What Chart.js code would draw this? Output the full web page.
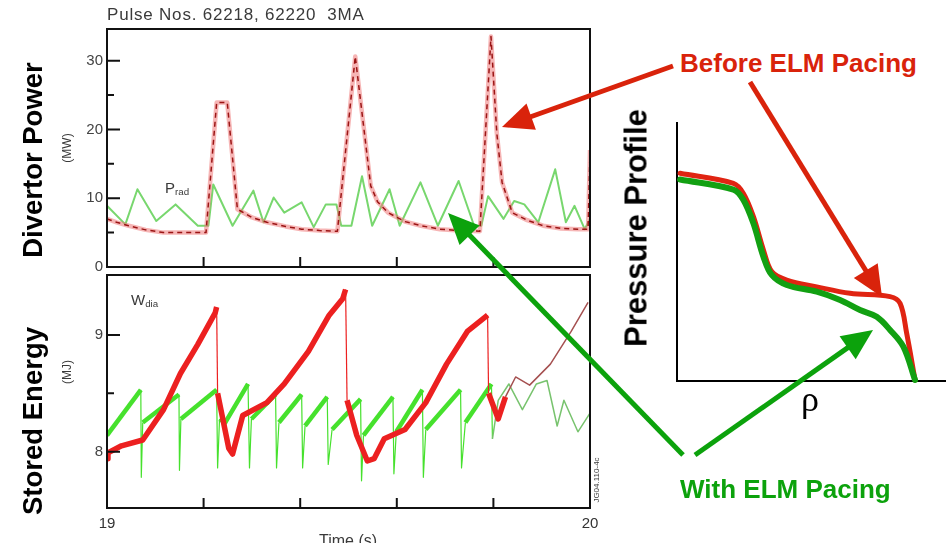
<!DOCTYPE html>
<html>
<head>
<meta charset="utf-8">
<script src="https://cdn.jsdelivr.net/npm/chart.js@4.4.0/dist/chart.umd.min.js"></script>
<style>
body { margin: 0; background: #fff; }
#page { position: relative; width: 946px; height: 543px; overflow: hidden; font-family: "Liberation Sans", Arial, sans-serif; }
canvas, .lbl, svg { position: absolute; }
.lbl { line-height: 1; white-space: nowrap; }
.rot { transform: translate(-50%, -50%) rotate(-90deg); }
.big { font-weight: bold; font-size: 27.5px; color: #000; }
.small { color: #3a3a3a; }
sub { font-size: 0.65em; vertical-align: -0.25em; }
</style>
</head>
<body>
<div id="page">
  <canvas id="power" width="600" height="280" style="left:0;top:0;width:600px;height:280px"></canvas>
  <canvas id="energy" width="620" height="290" style="left:0;top:262px;width:620px;height:290px"></canvas>
  <canvas id="profile" width="346" height="300" style="left:600px;top:100px;width:346px;height:300px"></canvas>

  <div class="lbl small" style="left:107px;top:6px;font-size:17px;letter-spacing:0.8px">Pulse Nos. 62218, 62220&nbsp; 3MA</div>
  <div class="lbl small" style="left:165px;top:180px;font-size:15px">P<sub>rad</sub></div>
  <div class="lbl small" style="left:131px;top:292px;font-size:15px">W<sub>dia</sub></div>
  <div class="lbl small rot" style="left:67px;top:148px;font-size:12px">(MW)</div>
  <div class="lbl small rot" style="left:67px;top:372px;font-size:12px">(MJ)</div>
  <div class="lbl small" style="left:348px;top:533px;font-size:16px;transform:translateX(-50%)">Time (s)</div>
  <div class="lbl small rot" style="left:597px;top:480px;font-size:8px">JG04.110-4c</div>

  <div class="lbl big rot" style="left:33px;top:160px">Divertor Power</div>
  <div class="lbl big rot" style="left:33px;top:421px">Stored Energy</div>
  <div class="lbl rot" style="left:636px;top:228px;font-size:31px;font-weight:bold">Pressure Profile</div>
  <div class="lbl" style="left:810px;top:381px;font-size:36px;font-family:'Liberation Serif','Times New Roman',serif;transform:translateX(-50%)">ρ</div>

  <div class="lbl" style="left:680px;top:50px;font-size:26px;font-weight:bold;color:#d9230b">Before ELM Pacing</div>
  <div class="lbl" style="left:680px;top:476px;font-size:26px;font-weight:bold;color:#0ca20c">With ELM Pacing</div>

  <svg id="arrows" width="946" height="543" style="left:0;top:0"></svg>
</div>
<script>
// divertor power, before ELM pacing (red)
const divTime = [19.0, 19.02, 19.045, 19.08, 19.117, 19.16, 19.205, 19.227, 19.249, 19.27, 19.30, 19.331, 19.37, 19.403,
  19.44, 19.477, 19.514, 19.546, 19.56, 19.582, 19.617, 19.65, 19.689, 19.73, 19.772, 19.795, 19.807, 19.818, 19.839,
  19.87, 19.903, 19.94, 19.975, 19.996, 20.0];
const divPower = [7.0, 6.5, 6.0, 5.4, 5.0, 5.0, 5.0, 23.9, 23.9, 8.4, 7.2, 6.5, 5.9, 5.5,
  5.3, 5.2, 30.6, 11.8, 9.5, 7.9, 6.6, 6.0, 5.5, 5.3, 5.2, 33.5, 19.5, 12.3, 7.9,
  6.8, 6.0, 5.6, 5.5, 5.5, 17.0];
// radiated power, with ELM pacing (green)
const radTime = [19.0, 19.038, 19.063, 19.102, 19.142, 19.188, 19.21, 19.22, 19.26, 19.303, 19.324, 19.345, 19.367, 19.403,
  19.428, 19.453, 19.475, 19.485, 19.506, 19.528, 19.549, 19.585, 19.606, 19.649, 19.685, 19.728, 19.76, 19.775, 19.789,
  19.821, 19.843, 19.864, 19.893, 19.928, 19.95, 19.968, 19.989, 20.0];
const radPower = [8.9, 6.2, 11.3, 6.7, 9.1, 6.0, 6.0, 12.0, 6.0, 11.1, 6.5, 10.1, 7.9, 9.4,
  5.8, 9.1, 9.1, 6.0, 6.0, 13.2, 6.0, 11.3, 6.0, 12.3, 6.0, 12.5, 6.0, 6.0, 10.3,
  7.0, 9.6, 9.1, 6.5, 14.2, 6.5, 8.9, 5.5, 7.0];

// stored energy W_dia, before pacing (red)
const wTimeBefore = [19.0, 19.002, 19.03, 19.074, 19.117, 19.152, 19.188, 19.224, 19.227, 19.229, 19.252, 19.26, 19.281,
  19.331, 19.367, 19.417, 19.46, 19.488, 19.494, 19.497, 19.517, 19.539, 19.553, 19.574, 19.617, 19.66, 19.703, 19.746,
  19.788, 19.79, 19.81, 19.825, 19.846, 19.875, 19.918, 19.961, 19.996];
const wBefore = [7.94, 7.99, 8.05, 8.10, 8.36, 8.67, 8.92, 9.19, 9.24, 8.5, 8.03, 7.98, 8.31,
  8.42, 8.58, 8.86, 9.17, 9.31, 9.39, 8.44, 8.14, 7.92, 7.94, 8.11, 8.19, 8.42, 8.75, 9.03,
  9.17, 8.5, 8.28, 8.47, 8.64, 8.57, 8.75, 9.03, 9.28];
// stored energy W_dia, with pacing (green)
const wTimeAfter = [19.0, 19.07, 19.071, 19.074, 19.149, 19.15, 19.153, 19.227, 19.229, 19.233, 19.245, 19.292, 19.295,
  19.299, 19.349, 19.351, 19.356, 19.403, 19.405, 19.41, 19.456, 19.458, 19.466, 19.525, 19.527, 19.531, 19.592, 19.594,
  19.599, 19.653, 19.655, 19.66, 19.732, 19.734, 19.742, 19.796, 19.798, 19.81, 19.832, 19.86, 19.889, 19.911, 19.932,
  19.946, 19.975, 20.0];
const wAfter = [8.14, 8.53, 7.78, 8.25, 8.49, 7.84, 8.28, 8.53, 7.86, 8.28, 8.25, 8.58, 7.86,
  8.28, 8.49, 7.86, 8.25, 8.49, 7.86, 8.22, 8.47, 7.89, 8.19, 8.45, 7.75, 8.14, 8.47, 7.81,
  8.17, 8.53, 7.78, 8.19, 8.53, 7.86, 8.25, 8.58, 8.11, 8.44, 8.58, 8.36, 8.58, 8.61, 8.22,
  8.44, 8.17, 8.33];

// pressure profiles vs rho
const rhoBefore = [0.013, 0.237, 0.279, 0.321, 0.363, 0.398, 0.461, 0.587, 0.727, 0.895, 0.937, 0.965, 1.0];
const presBefore = [0.805, 0.766, 0.727, 0.637, 0.508, 0.424, 0.391, 0.365, 0.340, 0.327, 0.301, 0.184, 0.004];
const rhoAfter = [0.013, 0.237, 0.279, 0.321, 0.363, 0.398, 0.461, 0.587, 0.685, 0.769, 0.839, 0.895, 0.951, 1.0];
const presAfter = [0.781, 0.742, 0.702, 0.611, 0.482, 0.411, 0.372, 0.346, 0.314, 0.275, 0.249, 0.198, 0.133, 0.004];

const powerTicks = [0, 10, 20, 30];
const powerMinor = [5, 15, 25];
const energyTicks = [8, 9];
const energyMinor = [8.5];
const timeLabels = [19, 20];
const timeMarks = [19.2, 19.4, 19.6, 19.8];

const RED = "#d9230b";
const GREEN = "#0ca20c";

Chart.defaults.font.family = '"Liberation Sans", Arial, sans-serif';
Chart.defaults.animation = false;

const pts = (xs, ys) => xs.map((x, i) => ({ x: x, y: ys[i] }));

// box round the plot and tick marks pointing inwards
const framePlugin = {
    id: "frame",
    afterDraw(chart, args, opts) {
        const { ctx, chartArea: a, scales } = chart;
        ctx.save();
        ctx.strokeStyle = "#111";
        ctx.lineWidth = 2;
        ctx.strokeRect(a.left, a.top, a.right - a.left, a.bottom - a.top);
        ctx.beginPath();
        opts.major.forEach((v) => {
            const y = scales.y.getPixelForValue(v);
            ctx.moveTo(a.left, y);
            ctx.lineTo(a.left + 13, y);
        });
        opts.minor.forEach((v) => {
            const y = scales.y.getPixelForValue(v);
            ctx.moveTo(a.left, y);
            ctx.lineTo(a.left + 7, y);
        });
        opts.marks.forEach((v) => {
            const x = scales.x.getPixelForValue(v);
            ctx.moveTo(x, a.bottom);
            ctx.lineTo(x, a.bottom - 10);
        });
        ctx.stroke();
        ctx.restore();
    },
};

const yAxis = (min, max, ticks) => ({
    min: min,
    max: max,
    afterFit: (s) => { s.width = 107; },
    afterBuildTicks: (s) => { s.ticks = ticks.map((v) => ({ value: v })); },
    grid: { display: false, drawTicks: false },
    border: { display: false },
    ticks: { padding: 4, color: "#444", font: { size: 15 } },
});

new Chart(document.getElementById("power"), {
    type: "line",
    data: {
        datasets: [
            { data: pts(divTime, divPower), borderColor: "#9b1515", borderWidth: 1.5, borderDash: [5, 4] },
            { data: pts(divTime, divPower), borderColor: "rgba(238,120,120,0.55)", borderWidth: 4.5 },
            { data: pts(radTime, radPower), borderColor: "rgb(120,215,110)", borderWidth: 2 },
        ],
    },
    options: {
        responsive: false,
        layout: { padding: { top: 29, right: 10, bottom: 12, left: 0 } },
        elements: { point: { radius: 0 }, line: { tension: 0, borderJoinStyle: "round" } },
        plugins: {
            legend: { display: false },
            tooltip: { enabled: false },
            frame: { major: powerTicks, minor: powerMinor, marks: timeMarks },
        },
        scales: {
            x: {
                type: "linear", min: 19, max: 20,
                afterFit: (s) => { s.height = 0; },
                grid: { display: false, drawTicks: false },
                border: { display: false },
                ticks: { display: false },
            },
            y: yAxis(0, 34.6, powerTicks),
        },
    },
    plugins: [framePlugin],
});

// thick noisy trace, thin line for the fast drops and the tail
const wSegment = (thinFrom, thick, colThick, colThin) => ({
    borderWidth: (c) => {
        if (c.p0.parsed.x >= thinFrom) return 1.5;
        const fast = c.p1.parsed.x - c.p0.parsed.x < 0.01 && Math.abs(c.p1.parsed.y - c.p0.parsed.y) > 0.25;
        return fast ? 1.2 : thick;
    },
    borderColor: (c) => (c.p0.parsed.x >= thinFrom ? colThin : colThick),
});

new Chart(document.getElementById("energy"), {
    type: "line",
    data: {
        datasets: [
            { data: pts(wTimeBefore, wBefore), borderColor: "rgb(236,32,32)", segment: wSegment(19.82, 5.5, "rgb(236,32,32)", "rgb(165,80,80)") },
            { data: pts(wTimeAfter, wAfter), borderColor: "rgb(70,225,45)", segment: wSegment(19.797, 4.5, "rgb(70,225,45)", "rgb(120,195,110)") },
        ],
    },
    options: {
        responsive: false,
        layout: { padding: { top: 6, right: 30, bottom: 0, left: 0 } },
        elements: { point: { radius: 0 }, line: { tension: 0, borderJoinStyle: "round" } },
        plugins: {
            legend: { display: false },
            tooltip: { enabled: false },
            frame: { major: energyTicks, minor: energyMinor, marks: timeMarks },
        },
        scales: {
            x: {
                type: "linear", min: 19, max: 20,
                afterFit: (s) => { s.height = 44; },
                afterBuildTicks: (s) => { s.ticks = timeLabels.map((v) => ({ value: v })); },
                grid: { display: false, drawTicks: false },
                border: { display: false },
                ticks: { padding: 7, color: "#333", font: { size: 15 }, maxRotation: 0, callback: (v) => String(v) },
            },
            y: yAxis(7.517, 9.514, energyTicks),
        },
    },
    plugins: [framePlugin],
});

new Chart(document.getElementById("profile"), {
    type: "line",
    data: {
        datasets: [
            { data: pts(rhoAfter, presAfter), borderColor: "#12a012", borderWidth: 6, clip: false },
            { data: pts(rhoBefore, presBefore), borderColor: "#e02412", borderWidth: 5, clip: false },
        ],
    },
    options: {
        responsive: false,
        layout: { padding: { top: 23, right: 0, bottom: 19, left: 77 } },
        elements: { point: { radius: 0 }, line: { tension: 0.35, borderCapStyle: "round", borderJoinStyle: "round" } },
        plugins: { legend: { display: false }, tooltip: { enabled: false } },
        scales: {
            x: {
                type: "linear", min: 0, max: 1.13,
                afterFit: (s) => { s.height = 0; },
                grid: { display: false, drawTicks: false },
                border: { display: true, color: "#000", width: 2 },
                ticks: { display: false },
            },
            y: {
                min: 0, max: 1,
                afterFit: (s) => { s.width = 0; },
                grid: { display: false, drawTicks: false },
                border: { display: true, color: "#000", width: 2 },
                ticks: { display: false },
            },
        },
    },
});

// annotation arrows
const arrows = [
    { from: [673, 66], to: [502, 127], color: RED },
    { from: [750, 82], to: [882, 297], color: RED },
    { from: [683, 455], to: [448, 213], color: GREEN },
    { from: [695, 455], to: [873, 330], color: GREEN },
];
const svg = document.getElementById("arrows");
const NS = "http://www.w3.org/2000/svg";
arrows.forEach((a) => {
    const dx = a.to[0] - a.from[0], dy = a.to[1] - a.from[1];
    const len = Math.hypot(dx, dy);
    const ux = dx / len, uy = dy / len;
    const headLen = 31, half = 14;
    const bx = a.to[0] - ux * headLen, by = a.to[1] - uy * headLen;
    const line = document.createElementNS(NS, "line");
    line.setAttribute("x1", a.from[0]);
    line.setAttribute("y1", a.from[1]);
    line.setAttribute("x2", bx + ux * 2);
    line.setAttribute("y2", by + uy * 2);
    line.setAttribute("stroke", a.color);
    line.setAttribute("stroke-width", 5);
    svg.appendChild(line);
    const head = document.createElementNS(NS, "polygon");
    head.setAttribute("points", [
        a.to[0] + "," + a.to[1],
        (bx - uy * half) + "," + (by + ux * half),
        (bx + uy * half) + "," + (by - ux * half),
    ].join(" "));
    head.setAttribute("fill", a.color);
    svg.appendChild(head);
});
</script>
</body>
</html>
